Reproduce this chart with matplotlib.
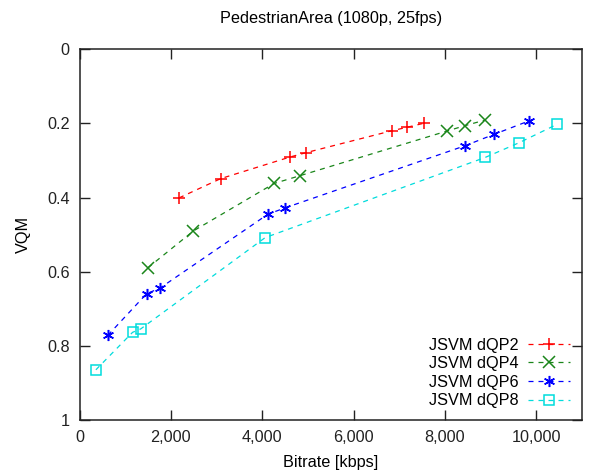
import matplotlib
matplotlib.use("Agg")
from matplotlib import pyplot as plt

plt.rcParams['font.family'] = ['Liberation Sans', 'DejaVu Sans']

# bitrate [kbps] and VQM per configuration
dqp2_x = [2178, 3092, 4605, 4963, 6842, 7164, 7537]
dqp2_y = [0.401, 0.349, 0.291, 0.279, 0.220, 0.211, 0.200]
dqp4_x = [1498, 2493, 4262, 4831, 8042, 8450, 8888]
dqp4_y = [0.589, 0.490, 0.362, 0.341, 0.221, 0.206, 0.191]
dqp6_x = [621, 1469, 1761, 4123, 4496, 8429, 9072, 9832]
dqp6_y = [0.771, 0.659, 0.644, 0.445, 0.428, 0.261, 0.230, 0.194]
dqp8_x = [358, 1162, 1338, 4064, 8882, 9612, 10453]
dqp8_y = [0.864, 0.763, 0.754, 0.508, 0.292, 0.253, 0.203]

series = [
    ('JSVM dQP2', dqp2_x, dqp2_y, '#ff0000', '+'),
    ('JSVM dQP4', dqp4_x, dqp4_y, '#1a861a', 'x'),
    ('JSVM dQP6', dqp6_x, dqp6_y, '#0000ff', (6, 2, 0)),
    ('JSVM dQP8', dqp8_x, dqp8_y, '#00dcdc', 's'),
]

fs = 11.7
fig = plt.figure(figsize=(5.89, 4.76), dpi=100)
ax = fig.add_axes([0.135, 0.117, 0.853, 0.780])

for label, xs, ys, color, marker in series:
    mfc = 'none' if marker == 's' else color
    ax.plot(xs, ys, linestyle=(0, (4, 4)), linewidth=0.9, color=color,
            marker=marker, markersize=8 if marker != 's' else 7,
            markerfacecolor=mfc, markeredgecolor=color, markeredgewidth=1.1,
            label=label)

ax.set_xlim(0, 11000)
ax.set_ylim(1, 0)
ax.set_xticks([0, 2000, 4000, 6000, 8000, 10000])
ax.set_xticklabels(['0', '2,000', '4,000', '6,000', '8,000', '10,000'])
ax.set_yticks([0, 0.2, 0.4, 0.6, 0.8, 1])
ax.set_yticklabels(['0', '0.2', '0.4', '0.6', '0.8', '1'])
ax.tick_params(direction='in', top=True, right=True, length=7, width=1,
               labelsize=fs, colors='#222222', pad=7)
for s in ax.spines.values():
    s.set_linewidth(1.1)
    s.set_color('#222222')

ax.set_xlabel('Bitrate [kbps]', fontsize=fs, labelpad=7)
ax.set_ylabel('VQM', fontsize=fs, labelpad=12)
ax.set_title('PedestrianArea (1080p, 25fps)', fontsize=fs, pad=19)

ax.legend(loc='lower right', frameon=False, markerfirst=False, fontsize=fs,
          handlelength=2.6, labelspacing=0.22, borderaxespad=0.34,
          handletextpad=0.55)

fig.savefig('out.png', dpi=100)
